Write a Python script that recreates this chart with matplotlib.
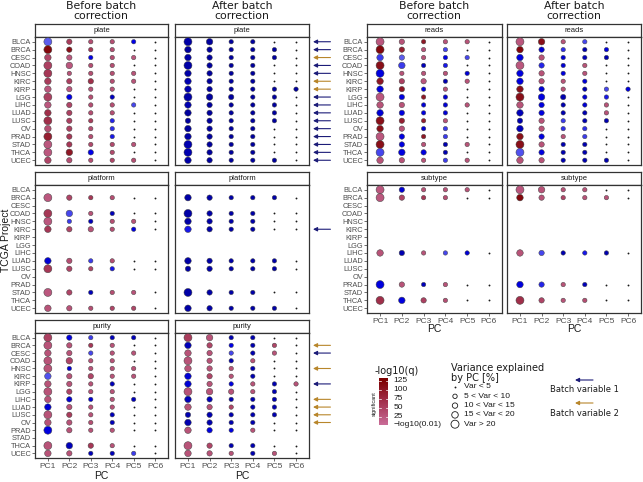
import matplotlib
matplotlib.use('Agg')
import matplotlib.pyplot as plt
import numpy as np
from matplotlib.colors import LinearSegmentedColormap, Normalize

plt.rcParams['font.family'] = ['Liberation Sans', 'DejaVu Sans']

projects = ['BLCA', 'BRCA', 'CESC', 'COAD', 'HNSC', 'KIRC', 'KIRP', 'LGG',
            'LIHC', 'LUAD', 'LUSC', 'OV', 'PRAD', 'STAD', 'THCA', 'UCEC']
pcs = ['PC1', 'PC2', 'PC3', 'PC4', 'PC5', 'PC6']

# variance-explained class per project/PC (0: <5, 1: 5-10, 2: 10-15, 3: 15-20, 4: >20)
var_before = [
    [4, 2, 1, 1, 1, 0], [4, 2, 1, 1, 0, 0], [3, 2, 1, 1, 1, 0], [4, 3, 1, 1, 0, 0],
    [4, 1, 1, 1, 1, 0], [3, 2, 2, 1, 1, 0], [3, 2, 1, 1, 0, 0], [4, 2, 1, 1, 0, 0],
    [3, 2, 1, 1, 1, 0], [3, 2, 1, 1, 0, 0], [4, 2, 1, 1, 0, 0], [3, 2, 1, 1, 0, 0],
    [4, 2, 1, 1, 0, 0], [4, 2, 1, 1, 1, 0], [4, 3, 2, 1, 0, 0], [3, 2, 1, 1, 1, 0]]
var_after = [
    [4, 3, 1, 1, 0, 0], [3, 2, 1, 1, 1, 0], [3, 2, 1, 1, 1, 0], [4, 2, 1, 1, 0, 0],
    [3, 2, 1, 1, 0, 0], [3, 2, 1, 1, 0, 0], [3, 2, 1, 1, 1, 1], [4, 3, 2, 1, 1, 0],
    [3, 2, 1, 1, 1, 0], [3, 2, 1, 1, 1, 0], [2, 2, 1, 1, 1, 0], [3, 2, 1, 1, 0, 0],
    [3, 2, 1, 1, 0, 0], [4, 2, 1, 1, 0, 0], [4, 2, 1, 1, 0, 0], [3, 2, 1, 1, 1, 0]]

# -log10(q) per project/PC (values < 2 are non-significant)
plate_before = [
    [1.8, 55, 35, 35, 1.0, 0], [120, 110, 60, 35, 0, 0], [45, 25, 1.0, 35, 25, 0],
    [50, 25, 35, 35, 0, 0], [60, 30, 35, 35, 30, 0], [55, 50, 70, 35, 30, 0],
    [25, 25, 30, 30, 0, 0], [50, 1.0, 35, 0.6, 0, 0], [25, 45, 35, 35, 1.6, 0],
    [70, 50, 35, 35, 0, 0], [70, 50, 55, 1.3, 0, 0], [35, 50, 35, 1.4, 0, 0],
    [90, 60, 35, 1.2, 0, 0], [25, 60, 40, 40, 30, 0], [25, 100, 1.0, 40, 0, 0],
    [45, 35, 35, 45, 35, 0]]
plate_after = [
    [0.3, 0.2, 0.2, 0.2, 0, 0], [0.2, 0.2, 0.2, 0.2, 0.2, 0], [0.3, 0.2, 0.2, 0.2, 0.2, 0],
    [0.3, 0.2, 0.2, 0.2, 0, 0], [0.3, 0.2, 0.2, 0.2, 0, 0], [0.4, 0.2, 0.2, 0.2, 0, 0],
    [0.4, 0.2, 0.2, 0.2, 0.2, 0.2], [0.3, 0.2, 0.2, 0.2, 0.2, 0], [0.4, 0.2, 0.2, 0.2, 0.2, 0],
    [0.2, 0.2, 0.2, 0.2, 0.2, 0], [0.2, 0.2, 0.2, 0.2, 0.2, 0], [0.2, 0.2, 0.2, 0.2, 0, 0],
    [0.3, 0.2, 0.2, 0.2, 0, 0], [0.4, 0.2, 0.2, 0.2, 0, 0], [0.4, 0.2, 0.2, 0.2, 0, 0],
    [0.3, 0.2, 0.2, 0.2, 0.2, 0]]
reads_before = [
    [25, 30, 100, 30, 30, 0], [120, 90, 30, 1.6, 0, 0], [1.5, 1.8, 30, 1.0, 1.6, 0],
    [110, 1.5, 0.5, 1.2, 0, 0], [0.9, 30, 30, 30, 0.8, 0], [100, 50, 25, 0.4, 30, 0],
    [0.9, 100, 0.9, 30, 0, 0], [25, 0.9, 100, 0.8, 0, 0], [30, 30, 0.8, 0.8, 30, 0],
    [0.8, 0.9, 0.9, 0.8, 0, 0], [110, 90, 90, 30, 0, 0], [110, 30, 0.8, 1.5, 0, 0],
    [25, 0.9, 100, 1.5, 0, 0], [110, 0.9, 30, 0.4, 30, 0], [1.6, 0.9, 0.9, 0.4, 0, 0],
    [30, 30, 30, 1.5, 30, 0]]
reads_after = [
    [25, 110, 30, 1.6, 0, 0], [120, 0.8, 1.4, 0.4, 0.9, 0], [0.9, 30, 0.8, 0.5, 0.4, 0],
    [25, 1.3, 0.8, 30, 0, 0], [0.9, 30, 0.9, 30, 0, 0], [0.9, 30, 30, 0.8, 0, 0],
    [110, 0.8, 30, 0.4, 1.6, 0.9], [110, 0.9, 0.4, 0.8, 1.2, 0], [30, 0.9, 0.4, 0.8, 30, 0],
    [0.5, 0.9, 0.4, 0.4, 30, 0], [0.4, 30, 1.5, 0.4, 0.4, 0], [0.5, 30, 1.4, 1.4, 0, 0],
    [110, 0.9, 30, 1.5, 0, 0], [110, 30, 0.4, 0.4, 0, 0], [1.7, 0.9, 0.4, 0.4, 0, 0],
    [30, 30, 0.4, 0.4, 0.4, 0]]
platform_before = [
    None, [25, 45, 60, 35, 0, 0], None, [60, 1.6, 30, 0.5, 0, 0],
    [25, 1.5, 0.5, 35, 30, 0], [60, 45, 30, 35, 0.9, 0], None, None,
    None, [0.8, 35, 1.5, 35, 0, 0], [60, 45, 45, 1.2, 0, 0], None,
    None, [25, 45, 0.5, 35, 30, 0], None, [30, 30, 35, 45, 45, 0]]
platform_after = [
    None, [0.3, 0.3, 0.3, 0.3, 0.3, 0], None, [0.3, 0.3, 0.3, 0.3, 0, 0],
    [0.3, 0.3, 0.3, 0.3, 0, 0], [1.2, 0.3, 0.3, 0.3, 0, 0], None, None,
    None, [0.3, 0.3, 0.3, 0.3, 0.3, 0], [0.3, 0.3, 0.3, 0.3, 0.3, 0], None,
    None, [0.3, 0.3, 0.3, 0.3, 0, 0], None, [0.3, 0.3, 0.3, 0.3, 0.3, 0]]
subtype_before = [
    [25, 0.8, 30, 30, 30, 0], [25, 45, 60, 35, 0, 0], None, None, None, None, None, None,
    [30, 0.4, 30, 1.6, 0.8, 0], None, None, None,
    [0.9, 30, 0.5, 30, 0, 0], None, [70, 0.9, 50, 35, 0, 0], None]
subtype_after = [
    [25, 30, 30, 30, 0, 0], [120, 30, 45, 30, 30, 0], None, None, None, None, None, None,
    [30, 1.6, 0.4, 1.2, 0.4, 0], None, None, None,
    [0.9, 1.3, 30, 0.5, 0, 0], None, [70, 45, 30, 35, 0, 0], None]
purity_before = [
    [50, 0.9, 1.5, 0.5, 0.5, 0], [30, 30, 60, 30, 0, 0], [30, 30, 1.6, 30, 30, 0],
    [30, 45, 30, 30, 0, 0], [30, 0.8, 30, 30, 30, 0], [1.7, 30, 45, 30, 30, 0],
    [30, 30, 30, 0.5, 0, 0], [30, 45, 30, 30, 0, 0], [30, 0.8, 0.8, 30, 0.5, 0],
    [0.8, 30, 30, 30, 0, 0], [30, 55, 30, 0.5, 0, 0], [30, 30, 35, 0.5, 0, 0],
    [0.9, 30, 30, 30, 0, 0], None, [30, 0.5, 60, 30, 0, 0], [30, 30, 0.5, 0.5, 1.5, 0]]
purity_after = [
    [55, 30, 0.4, 0.4, 0, 0], [0.5, 45, 1.0, 0.4, 45, 0], [30, 30, 1.6, 0.4, 30, 0],
    [30, 30, 0.4, 30, 0, 0], [30, 30, 30, 0.4, 0, 0], [0.8, 45, 30, 0.4, 0, 0],
    [0.8, 30, 0.9, 30, 0.4, 30], [30, 30, 30, 30, 0.4, 0], [0.5, 0.5, 0.4, 0.4, 0.4, 0],
    [30, 30, 45, 0.4, 0.4, 0], [0.4, 0.4, 0.4, 0.4, 0.4, 0], [0.4, 0.4, 0.4, 0.4, 0, 0],
    [30, 0.9, 0.9, 30, 0, 0], None, [30, 45, 0.4, 0.4, 0, 0], [30, 30, 30, 0.4, 30, 0]]

# batch-variable arrows (0 none, 1 batch variable 1, 2 batch variable 2)
plate_arrows = [1, 1, 2, 1, 1, 2, 2, 1, 1, 1, 1, 1, 1, 1, 1, 1]
platform_arrows = [0, 0, 0, 0, 0, 1, 0, 0, 0, 0, 0, 0, 0, 0, 0, 0]
purity_arrows = [0, 2, 1, 0, 2, 0, 1, 0, 2, 2, 2, 2, 0, 0, 0, 0]

size_labels = ['Var < 5', '5 < Var < 10', '10 < Var < 15', '15 < Var < 20', 'Var > 20']
cbar_ticks = [125, 100, 75, 50, 25]

W, H = 643, 482
fig = plt.figure(figsize=(W / 100, H / 100), dpi=100)


def add_ax(x0, y0, x1, y1):
    return fig.add_axes([x0 / W, 1 - y1 / H, (x1 - x0) / W, (y1 - y0) / H])


red_cmap = LinearSegmentedColormap.from_list('reds', ['#c96c98', '#a3324f', '#7d0000'])
blue_cmap = LinearSegmentedColormap.from_list('blues', ['#00008b', '#0000e8', '#7474f0'])
red_norm = Normalize(2, 130)
blue_norm = Normalize(0, 2)
size_area = [1.8, 10, 15, 22, 33]
arrow_cols = {1: '#1c1c78', 2: '#b8862b'}
edge = '#333333'
tcol = '#4d4d4d'


def color_of(v):
    if v >= 2:
        return red_cmap(red_norm(v))
    return blue_cmap(blue_norm(v))


def draw_panel(x0, x1, y0, y1, label, qvals, sizes, show_y, show_x, arrows=None):
    sax = add_ax(x0, y0, x1, y0 + 13)
    sax.set_xticks([]); sax.set_yticks([])
    for sp in sax.spines.values():
        sp.set_color(edge); sp.set_linewidth(0.9)
    sax.text(0.5, 0.5, label, ha='center', va='center', fontsize=5.5, color='#1a1a1a',
             transform=sax.transAxes)
    ax = add_ax(x0, y0 + 13, x1, y1)
    xs, ys, ss, cs = [], [], [], []
    dx, dy = [], []
    for i, row in enumerate(qvals):
        if row is None:
            continue
        for j, v in enumerate(row):
            s = sizes[i][j]
            if s == 0:
                dx.append(j); dy.append(i)
            else:
                xs.append(j); ys.append(i); ss.append(size_area[s]); cs.append(color_of(v))
    ax.scatter(dx, dy, s=size_area[0], color='#1a1a1a', lw=0, zorder=3)
    ax.scatter(xs, ys, s=ss, c=cs, edgecolors='#444444', linewidths=0.35, zorder=3)
    ax.set_xlim(-0.6, 5.6)
    ax.set_ylim(15.6, -0.6)
    for sp in ax.spines.values():
        sp.set_color(edge); sp.set_linewidth(0.9)
    if show_y:
        ax.set_yticks(range(len(projects)))
        ax.set_yticklabels(projects, fontsize=5.3, color=tcol)
        ax.tick_params(axis='y', length=2, width=0.5, color=edge, pad=1)
    else:
        ax.set_yticks([])
    if show_x:
        ax.set_xticks(range(len(pcs)))
        ax.set_xticklabels(pcs, fontsize=6, color=tcol)
        ax.tick_params(axis='x', length=2, width=0.5, color=edge, pad=1.5)
    else:
        ax.set_xticks([])
    if arrows is not None:
        tr = ax.get_yaxis_transform()
        for i, a in enumerate(arrows):
            if a:
                ax.annotate('', xy=(1.03, i), xytext=(1.16, i), xycoords=tr, textcoords=tr,
                            arrowprops=dict(arrowstyle='-|>', color=arrow_cols[a], lw=0.8,
                                            mutation_scale=6, shrinkA=0, shrinkB=0),
                            annotation_clip=False)
    return ax


LB, LA = (35, 168), (175, 309)
RB, RA = (367, 502), (507, 641)
R1, R2, R3 = (24, 165), (172, 313), (320, 458)

draw_panel(*LB, *R1, 'plate', plate_before, var_before, True, False)
draw_panel(*LA, *R1, 'plate', plate_after, var_after, False, False, plate_arrows)
draw_panel(*RB, *R1, 'reads', reads_before, var_before, True, False)
draw_panel(*RA, *R1, 'reads', reads_after, var_after, False, False)
draw_panel(*LB, *R2, 'platform', platform_before, var_before, True, False)
draw_panel(*LA, *R2, 'platform', platform_after, var_after, False, False, platform_arrows)
draw_panel(*RB, *R2, 'subtype', subtype_before, var_before, True, True)
draw_panel(*RA, *R2, 'subtype', subtype_after, var_after, False, True)
draw_panel(*LB, *R3, 'purity', purity_before, var_before, True, True)
draw_panel(*LA, *R3, 'purity', purity_after, var_after, False, True, purity_arrows)


def ftext(x, y, s, **kw):
    fig.text(x / W, 1 - y / H, s, **kw)


for cx, t in [(101, 'Before batch\ncorrection'), (242, 'After batch\ncorrection'),
              (434, 'Before batch\ncorrection'), (574, 'After batch\ncorrection')]:
    ftext(cx, 11, t, ha='center', va='center', fontsize=7.8, linespacing=0.95, color='#1a1a1a',
          family='DejaVu Sans')

for cx, y in [(101, 476), (242, 476), (434, 329), (574, 329)]:
    ftext(cx, y, 'PC', ha='center', va='center', fontsize=7.5, color='#1a1a1a')
ftext(6, 240, 'TCGA Project', ha='center', va='center', rotation=90, fontsize=7.5, color='#1a1a1a')

# colour legend
ftext(375, 371, '-log10(q)', ha='left', va='center', fontsize=7, color='#1a1a1a',
      family='DejaVu Sans')
cax = add_ax(379, 378, 388, 425)
grad = np.linspace(133, 2, 100)
img = np.array([[red_cmap(red_norm(v))] for v in grad])
cax.imshow(img, aspect='auto', extent=(0, 1, 2, 133), origin='upper')
cax.set_xlim(0, 1); cax.set_ylim(2, 133)
cax.set_xticks([]); cax.set_yticks([])
for sp in cax.spines.values():
    sp.set_visible(False)
for v in cbar_ticks:
    cax.plot([0, 0.2], [v, v], color='white', lw=0.5)
    cax.plot([0.8, 1], [v, v], color='white', lw=0.5)
    cax.text(1.6, v, str(v), ha='left', va='center', fontsize=6, color='#1a1a1a',
             transform=cax.get_yaxis_transform())
cax.text(1.6, 2, '\u2212log10(0.01)', ha='left', va='center', fontsize=6, color='#1a1a1a',
         transform=cax.get_yaxis_transform())
ftext(374, 404, 'significant', ha='center', va='center', rotation=90, fontsize=4, color='#1a1a1a')

# size legend
ftext(451, 373, 'Variance explained\nby PC [%]', ha='left', va='center', fontsize=7,
      linespacing=0.95, color='#1a1a1a', family='DejaVu Sans')
lax = add_ax(445, 382, 560, 430)
lax.set_xlim(0, 115); lax.set_ylim(48, 0)
lax.axis('off')
for k, lab in enumerate(size_labels):
    yy = 5 + k * 9.3
    if k == 0:
        lax.scatter([10], [yy], s=size_area[0], color='#1a1a1a', lw=0)
    else:
        lax.scatter([10], [yy], s=size_area[k], facecolors='none', edgecolors='#1a1a1a',
                    linewidths=0.6)
    lax.text(19, yy, lab, ha='left', va='center', fontsize=6, color='#1a1a1a')

# batch legend
for yy, ty, c, lab in [(380, 390, 1, 'Batch variable 1'), (403, 413, 2, 'Batch variable 2')]:
    fig.add_artist(matplotlib.patches.FancyArrowPatch(
        (593 / W, 1 - yy / H), (575 / W, 1 - yy / H), transform=fig.transFigure,
        arrowstyle='-|>', color=arrow_cols[c], lw=0.8, mutation_scale=6, shrinkA=0, shrinkB=0))
    ftext(584, ty, lab, ha='center', va='center', fontsize=6, color='#1a1a1a',
          family='DejaVu Sans')

fig.savefig('out.png', dpi=100)
